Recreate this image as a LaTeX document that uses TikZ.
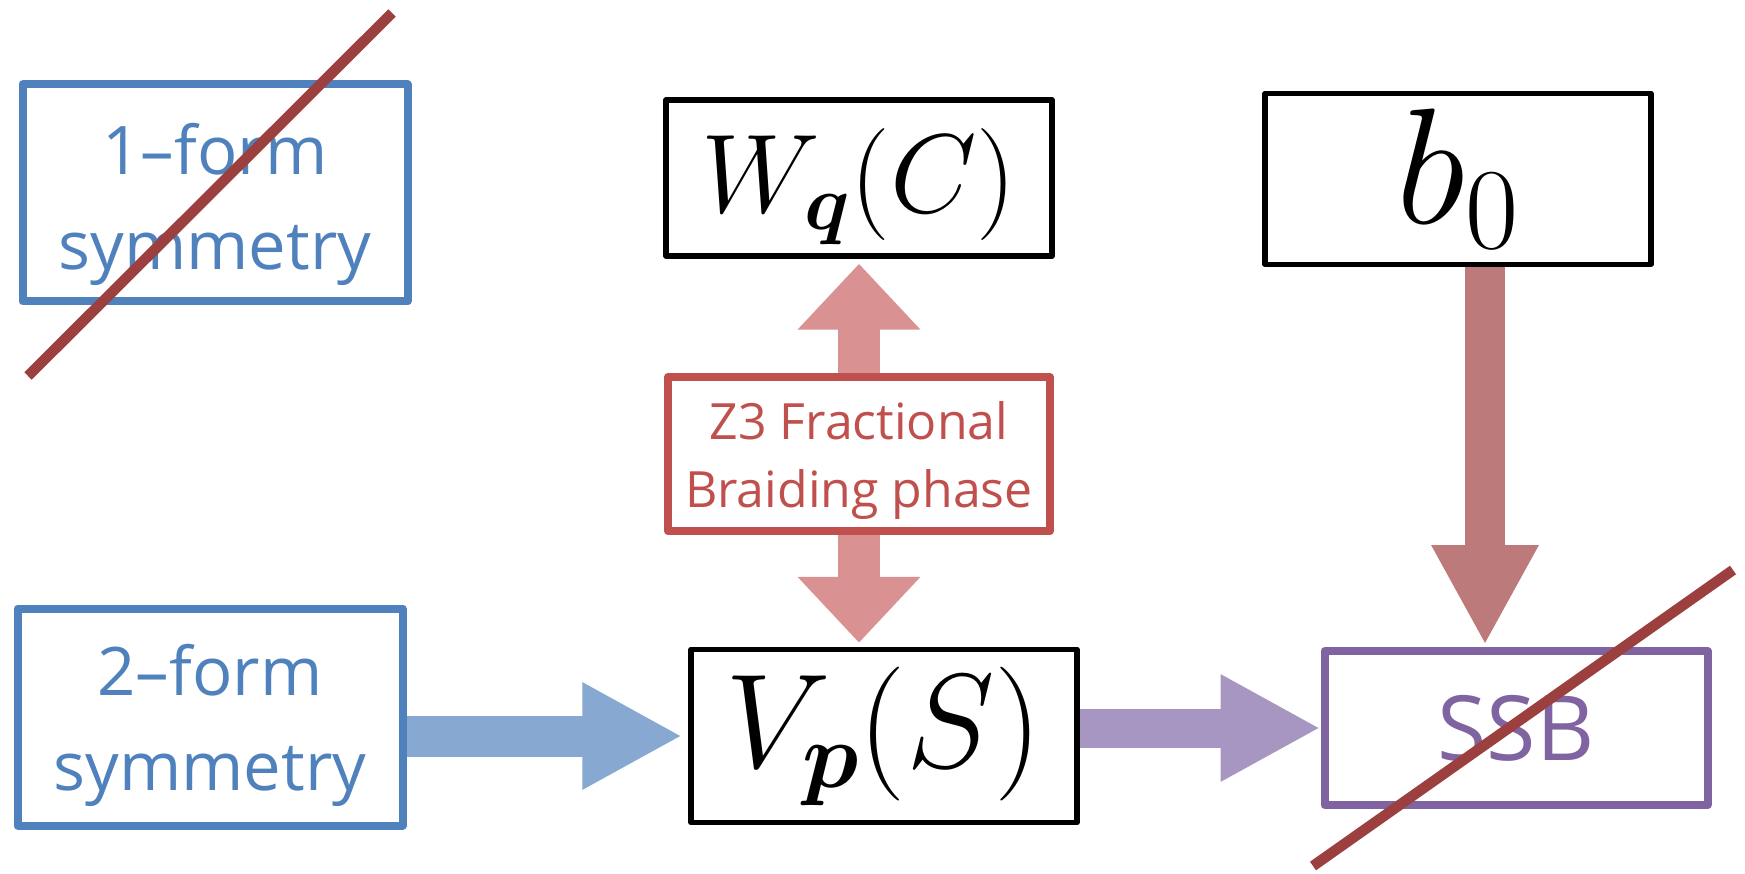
\RequirePackage{fix-cm}
\documentclass[tikz,border=0pt]{standalone}
\usepackage[no-math]{fontspec}
\usepackage{amsmath}
\usepackage{bm}
\usetikzlibrary{arrows.meta,positioning}
\newfontfamily\osans{Open Sans}
\definecolor{symblue}{RGB}{79,129,189}
\definecolor{flowblue}{RGB}{134,168,209}
\definecolor{braidred}{RGB}{192,80,77}
\definecolor{flowred}{RGB}{217,146,145}
\definecolor{flowrose}{RGB}{188,123,122}
\definecolor{ssbpurple}{RGB}{128,100,162}
\definecolor{flowpurple}{RGB}{167,150,193}
\definecolor{strike}{RGB}{155,64,62}
% alto extra sobre la primera linea (baja el texto en la caja)
\newcommand{\toprise}[1]{\rule{0pt}{#1}}

\begin{document}
\begin{tikzpicture}[x=1pt, y=-1pt,
    box/.style={rectangle, draw, line join=round, inner sep=0pt, align=center},
    symbox/.style={box, draw=symblue, line width=8pt, text=symblue, minimum width=385pt, minimum height=217pt, font=\osans\fontsize{67}{95}\selectfont},
    opbox/.style={box, draw=black, line width=5.5pt, minimum width=386pt},
    colbox/.style={box, draw=#1, text=#1, line width=8pt, minimum height=154pt},
    flow/.style={line width=40pt, -{Triangle[width=100pt, length=100pt]}},
    braidflow/.style={flowred, line width=42pt, -{Triangle[width=119pt, length=66pt]}},
    strikeline/.style={strike, line width=10.5pt}]
  \useasboundingbox (0,0) rectangle (1745,874);

  % Cajas
  \node[symbox] (form1) at (215,193) {\toprise{75pt}1–form\\symmetry};
  \node[opbox, minimum height=156pt, font=\fontsize{112}{130}\selectfont] (wq) at (859,178) {\toprise{102pt}$W_{\bm{q}}(C)$};
  \node[opbox, minimum height=171pt, font=\fontsize{165}{180}\selectfont] (b0) at (1458,179) {$b_0$};
  \node[colbox=braidred, minimum width=382pt, font=\osans\fontsize{50}{68}\selectfont] (braid) at (859,454) {\toprise{52pt}Z3 Fractional\\Braiding phase};
  \node[symbox] (form2) at (210,717) {\toprise{68pt}2–form\\symmetry};
  \node[opbox, minimum height=173pt, font=\fontsize{134}{150}\selectfont] (vp) at (884,736) {$V_{\bm{p}}(S)$};
  \node[colbox=ssbpurple, minimum width=383pt, font=\osans\fontsize{90}{100}\selectfont] (ssb) at (1516,728) {SSB};

  % Flechas
  \draw[flow, flowblue, line width=41pt, shorten >=6pt] (form2.east |- vp) -- (vp.west);
  \draw[flow, flowpurple, line width=39pt] (vp.east |- ssb) -- (ssb.west);
  \draw[flow, flowrose, shorten >=2pt] ([xshift=27pt]b0.south) -- ([xshift=27pt]b0.south |- ssb.north);
  \draw[braidflow, shorten >=5pt] (braid.north) -- (wq.south);
  \draw[braidflow, shorten >=4pt] (braid.south) -- (braid.south |- vp.north);

  % Tachaduras
  \coordinate (s1a) at (28,376);
  \coordinate (s1b) at (392,13);
  \coordinate (s2a) at (1313,866);
  \coordinate (s2b) at (1733,570);
  \draw[strikeline] (s1a) -- (s1b);
  \draw[strikeline] (s2a) -- (s2b);
\end{tikzpicture}
\end{document}
